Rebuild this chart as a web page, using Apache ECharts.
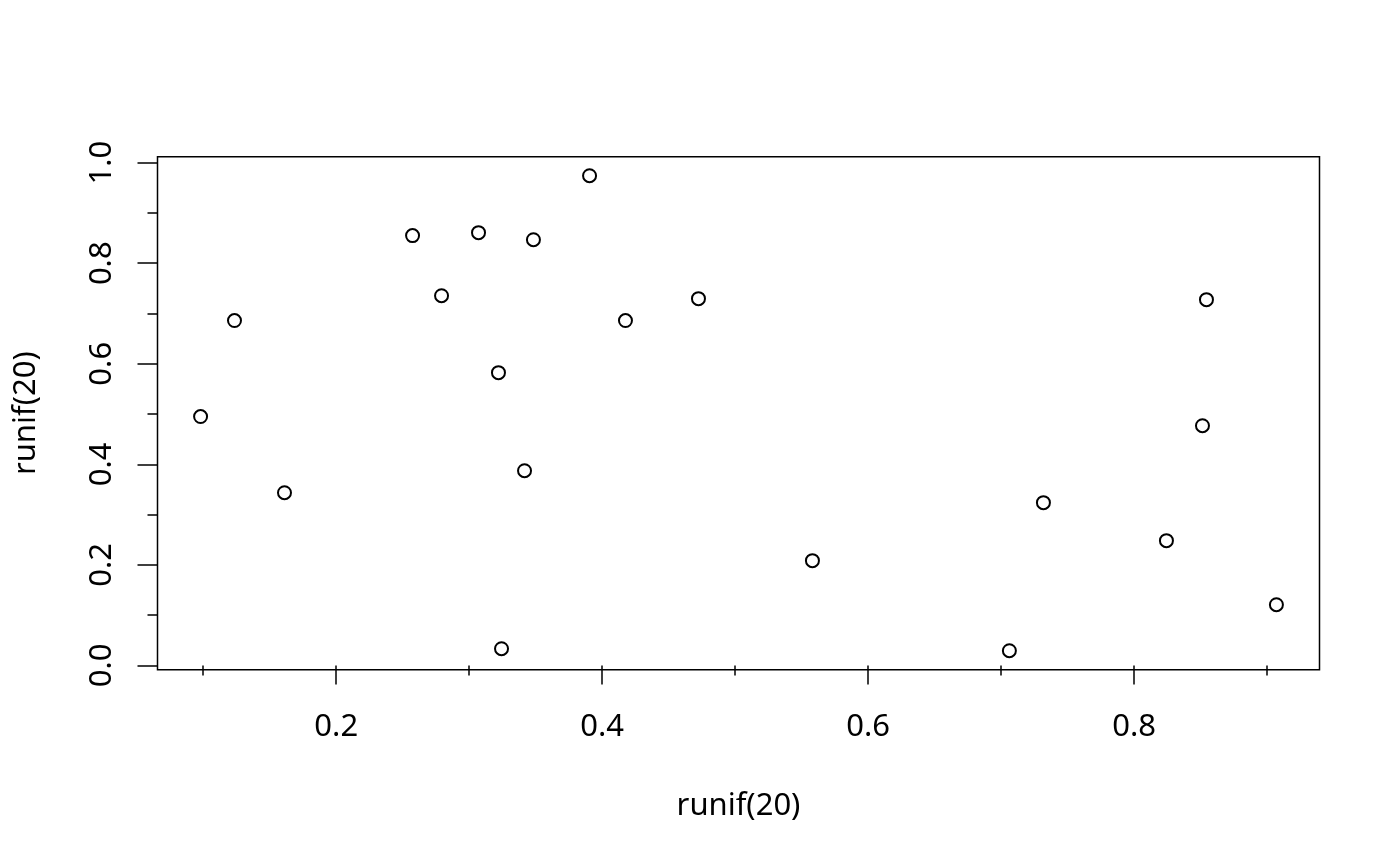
<!DOCTYPE html>
<html><head><meta charset="utf-8">
<script src="https://cdn.jsdelivr.net/npm/echarts@6/dist/echarts.min.js"></script>
<style>html,body{margin:0;padding:0;background:#fff}#c{width:1400px;height:866px}</style>
</head><body><div id="c"></div>
<script>
const xVals = [0.098,0.1235,0.1611,0.2574,0.2792,0.3070,0.3220,0.3243,0.3416,0.3483,0.3905,0.4175,0.4724,0.5581,0.7062,0.7318,0.8243,0.8514,0.8544,0.9070];
const yVals = [0.495,0.686,0.3435,0.855,0.7354,0.8608,0.5823,0.0332,0.3873,0.8468,0.9741,0.686,0.7295,0.2083,0.0292,0.3237,0.2481,0.4768,0.7275,0.1207];
const xMajor = [0.2,0.4,0.6,0.8];
const xMinor = [0.1,0.3,0.5,0.7,0.9];
const yMajor = [0,0.2,0.4,0.6,0.8,1.0];
const yMinor = [0.1,0.3,0.5,0.7,0.9];
const xTitle = 'runif(20)';
const yTitle = 'runif(20)';
const xRange = [0.0656, 0.9394];
const yRange = [-0.0086, 1.0119];

const FONT = 'Noto Sans';
const lab = {color:'#000', fontFamily:FONT, fontSize:31};
const pts = xVals.map((x,i)=>[x,yVals[i]]);

function xa(extra){ return Object.assign({type:'value', min:xRange[0], max:xRange[1], position:'bottom', axisLine:{show:false}, splitLine:{show:false}}, extra); }
function ya(extra){ return Object.assign({type:'value', min:yRange[0], max:yRange[1], position:'left', axisLine:{show:false}, splitLine:{show:false}}, extra); }

const chart = echarts.init(document.getElementById('c'), null, {renderer:'canvas'});
chart.setOption({
  animation:false,
  backgroundColor:'#fff',
  grid:{left:157.5, top:156.7, width:1162, height:513, show:true, borderColor:'#000', borderWidth:1.5, backgroundColor:'transparent'},
  xAxis:[
    xa({axisTick:{show:true, customValues:xMajor, length:19, lineStyle:{color:'#000', width:1.5}},
        axisLabel:{show:true, customValues:xMajor, margin:42, formatter:v=>v.toFixed(1), ...lab},
        name:xTitle, nameLocation:'middle', nameGap:121, nameTextStyle:{...lab}}),
    xa({axisTick:{show:true, customValues:xMinor, length:10, lineStyle:{color:'#000', width:1.5}},
        axisLabel:{show:false}})
  ],
  yAxis:[
    ya({axisTick:{show:true, customValues:yMajor, length:20, lineStyle:{color:'#000', width:1.5}},
        axisLabel:{show:true, customValues:yMajor, rotate:90, margin:40, formatter:v=>v.toFixed(1), ...lab},
        name:yTitle, nameLocation:'middle', nameGap:116, nameRotate:90, nameTextStyle:{...lab}}),
    ya({axisTick:{show:true, customValues:yMinor, length:10, lineStyle:{color:'#000', width:1.5}},
        axisLabel:{show:false}})
  ],
  series:[{
    type:'scatter', xAxisIndex:0, yAxisIndex:0, data:pts,
    symbol:'circle', symbolSize:13,
    itemStyle:{color:'rgba(0,0,0,0)', borderColor:'#000', borderWidth:2, opacity:1},
    emphasis:{disabled:true}
  }]
});
</script></body></html>
